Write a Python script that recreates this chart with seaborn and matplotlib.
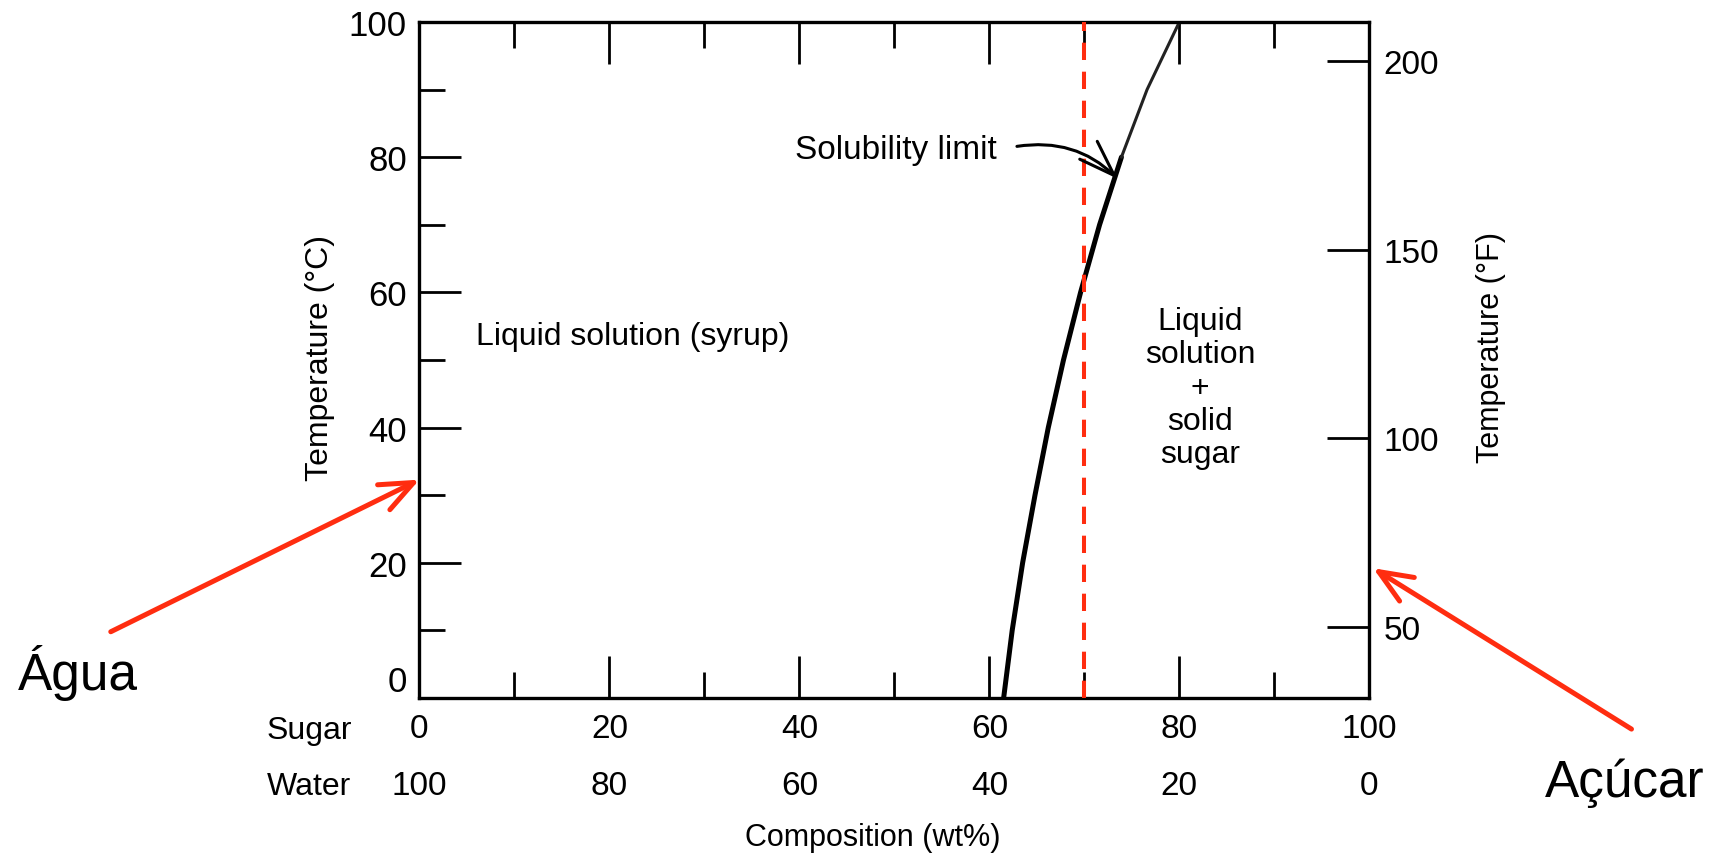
import matplotlib
matplotlib.use("Agg")
import matplotlib.pyplot as plt
import pandas as pd
import seaborn as sns
from matplotlib.ticker import FixedLocator

# ---------------- data ----------------
temp_c = [0, 10, 20, 30, 40, 50, 60, 70, 80, 90, 100]
sugar_wt = [61.5, 62.4, 63.5, 64.8, 66.2, 67.8, 69.6, 71.6, 73.9, 76.6, 80.0]
sugar_ticks = [0, 20, 40, 60, 80, 100]
sugar_minor = [10, 30, 50, 70, 90]
water_ticks = [100, 80, 60, 40, 20, 0]
celsius_ticks = [0, 20, 40, 60, 80, 100]
celsius_minor = [10, 30, 50, 70, 90]
fahrenheit_ticks = [50, 100, 150, 200]
fahrenheit_range = (31.1, 210.4)
example_comp = 70
water_arrow_temp = 32.3
sugar_arrow_temp = 19.2
solubility_point = (73.5, 76.8)

RED = "#ff2d10"

sns.set_theme(style="white")
plt.rcParams["font.family"] = ["Liberation Sans", "DejaVu Sans"]
plt.rcParams["text.color"] = "black"
plt.rcParams["axes.labelcolor"] = "black"
plt.rcParams["xtick.color"] = "black"
plt.rcParams["ytick.color"] = "black"

fig = plt.figure(figsize=(17.22, 8.54), dpi=100)
fig.patch.set_facecolor("white")
ax = fig.add_axes([0.2436, 0.1815, 0.5516, 0.7916])

df = pd.DataFrame({"sugar": sugar_wt, "temp": temp_c})
sns.lineplot(data=df[df["temp"] <= 80], x="sugar", y="temp", sort=False,
             estimator=None, color="black", lw=3.6, ax=ax)
sns.lineplot(data=df[df["temp"] >= 80], x="sugar", y="temp", sort=False,
             estimator=None, color="#222222", lw=2.2, ax=ax)
ax.axvline(example_comp, color=RED, lw=2.9, dashes=(4.3, 2.9), zorder=3)

ax.set_xlim(0, 100)
ax.set_ylim(0, 100)

for s in ax.spines.values():
    s.set_visible(True)
    s.set_color("black")
    s.set_linewidth(2.4)

ax.set_xticks(sugar_ticks)
ax.set_xticklabels([str(v) for v in sugar_ticks])
ax.xaxis.set_minor_locator(FixedLocator(sugar_minor))
ax.set_yticks(celsius_ticks)
ax.set_yticklabels([str(v) for v in celsius_ticks])
ax.yaxis.set_minor_locator(FixedLocator(celsius_minor))
ax.tick_params(which="both", direction="in", top=True, bottom=True, left=True,
               right=False, labeltop=False, color="black", width=2)
ax.tick_params(which="major", length=30)
ax.tick_params(which="minor", length=19)
ax.tick_params(axis="x", which="major", pad=11, labelsize=24)
ax.tick_params(axis="y", which="major", pad=9, labelsize=25)
ax.get_yticklabels()[0].set_va("bottom")

ax.set_xlabel("Composition (wt%)", fontsize=22)
ax.xaxis.set_label_coords(0.4775, -0.1827)
ax.set_ylabel("Temperature (°C)", fontsize=23)
ax.yaxis.set_label_coords(-0.089, 0.505)

# Water composition row
sec = ax.secondary_xaxis(-0.09, functions=(lambda x: 100 - x, lambda x: 100 - x))
sec.set_xticks(water_ticks)
sec.set_xticklabels([str(v) for v in water_ticks])
sec.tick_params(length=0, labelsize=24, pad=8)
for s in sec.spines.values():
    s.set_visible(False)

ax.text(-0.1606, -0.0599, "Sugar", transform=ax.transAxes, fontsize=23,
        ha="left", va="baseline")
ax.text(-0.1606, -0.1413, "Water", transform=ax.transAxes, fontsize=23,
        ha="left", va="baseline")

# Fahrenheit axis
ax2 = ax.twinx()
ax2.set_ylim(*fahrenheit_range)
ax2.set_yticks(fahrenheit_ticks)
ax2.set_yticklabels([str(v) for v in fahrenheit_ticks])
ax2.tick_params(axis="y", direction="in", length=30, width=2, labelsize=24,
                pad=10, color="black")
for s in ax2.spines.values():
    s.set_visible(False)
ax2.set_ylabel("Temperature (°F)", fontsize=22)
ax2.yaxis.set_label_coords(1.112, 0.52)
ax2.grid(False)

# region labels
ax.text(5.9, 53.6, "Liquid solution (syrup)", fontsize=23, ha="left", va="center")
ax.text(82.2, 45.9, "Liquid\nsolution\n+\nsolid\nsugar", fontsize=23,
        ha="center", va="center", linespacing=1.14, multialignment="center")
ax.text(39.5, 81.2, "Solubility limit", fontsize=24, ha="left", va="center")
ax.annotate("", xy=solubility_point, xytext=(62.9, 81.6),
            arrowprops=dict(arrowstyle="->,head_length=1.3,head_width=0.45",
                            connectionstyle="arc3,rad=-0.25", color="black",
                            lw=2.2, shrinkA=0, shrinkB=0, mutation_scale=20))

# red annotation arrows
ax.annotate("", xy=(0, water_arrow_temp), xytext=(-32.5, 9.8),
            annotation_clip=False,
            arrowprops=dict(arrowstyle="->,head_length=1.2,head_width=0.5",
                            color=RED, lw=3.6, shrinkA=0, shrinkB=0,
                            mutation_scale=20))
ax.annotate("", xy=(100.4, sugar_arrow_temp), xytext=(127.6, -4.6),
            annotation_clip=False,
            arrowprops=dict(arrowstyle="->,head_length=1.2,head_width=0.5",
                            color=RED, lw=3.6, shrinkA=0, shrinkB=0,
                            mutation_scale=20))
ax.text(-42.3, 1.3, "Água", fontsize=37, ha="left", va="baseline", clip_on=False)
ax.text(118.5, -14.5, "Açúcar", fontsize=37, ha="left", va="baseline", clip_on=False)

ax.grid(False)
fig.savefig("out.png", dpi=100, facecolor="white")
